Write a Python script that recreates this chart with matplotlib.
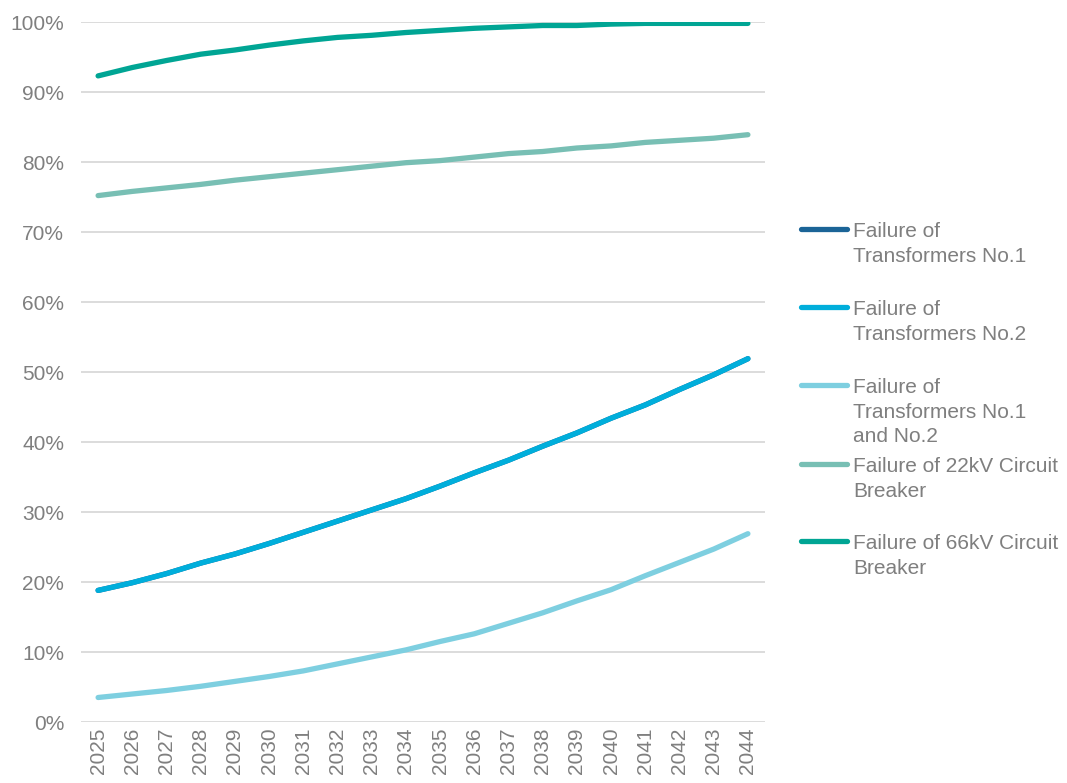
import matplotlib
matplotlib.use("Agg")
import matplotlib.pyplot as plt
from matplotlib.lines import Line2D
from matplotlib.ticker import PercentFormatter

years = [str(y) for y in range(2025, 2045)]

tr1 = [18.8, 19.9, 21.2, 22.7, 24.0, 25.5, 27.1, 28.7, 30.3, 31.9,
       33.7, 35.6, 37.4, 39.4, 41.3, 43.4, 45.3, 47.5, 49.6, 51.9]
tr2 = [18.8, 19.9, 21.2, 22.7, 24.0, 25.5, 27.1, 28.7, 30.3, 31.9,
       33.7, 35.6, 37.4, 39.4, 41.3, 43.4, 45.3, 47.5, 49.6, 51.9]
tr12 = [3.5, 4.0, 4.5, 5.1, 5.8, 6.5, 7.3, 8.3, 9.3, 10.3,
        11.5, 12.6, 14.1, 15.6, 17.3, 18.9, 20.9, 22.8, 24.7, 26.9]
cb22 = [75.2, 75.8, 76.3, 76.8, 77.4, 77.9, 78.4, 78.9, 79.4, 79.9,
        80.2, 80.7, 81.2, 81.5, 82.0, 82.3, 82.8, 83.1, 83.4, 83.9]
cb66 = [92.3, 93.5, 94.5, 95.4, 96.0, 96.7, 97.3, 97.8, 98.1, 98.5,
        98.8, 99.1, 99.3, 99.5, 99.5, 99.7, 99.8, 99.8, 99.8, 99.8]

labels = ["Failure of\nTransformers No.1",
          "Failure of\nTransformers No.2",
          "Failure of\nTransformers No.1\nand No.2",
          "Failure of 22kV Circuit\nBreaker",
          "Failure of 66kV Circuit\nBreaker"]
series = [tr1, tr2, tr12, cb22, cb66]
colors = ["#1B6497", "#00AEDB", "#7ECFE0", "#78BFB4", "#00A594"]

plt.rcParams["font.family"] = ["Liberation Sans", "DejaVu Sans"]
TXT = "#7F7F7F"
FS = 15

W, H = 1067, 783
fig = plt.figure(figsize=(W / 100, H / 100), dpi=100)
ax = fig.add_axes([81 / W, 1 - 722 / H, (765 - 81) / W, (722 - 22) / H])

x = list(range(len(years)))
for s, c in zip(series, colors):
    ax.plot(x, s, color=c, lw=3.8, solid_capstyle="round", solid_joinstyle="round", zorder=3)

ax.set_xlim(-0.5, len(years) - 0.5)
ax.set_ylim(0, 100)
ax.set_yticks(range(0, 101, 10))
ax.yaxis.set_major_formatter(PercentFormatter(decimals=0))
ax.set_xticks(x)
ax.set_xticklabels(years, rotation=90)
ax.grid(axis="y", color="#D9D9D9", lw=1.3, zorder=0)
ax.set_axisbelow(True)
for sp in ax.spines.values():
    sp.set_visible(False)
ax.tick_params(axis="both", length=0, labelsize=FS, labelcolor=TXT)
ax.tick_params(axis="y", pad=12)
ax.tick_params(axis="x", pad=4)

# legend (handle aligned with first line of each label)
ys = [229, 307, 385, 464, 541]
for yy, lab, c in zip(ys, labels, colors):
    fig.add_artist(Line2D([801 / W, 847 / W], [1 - yy / H, 1 - yy / H], color=c, lw=3.8,
                          solid_capstyle="round", transform=fig.transFigure))
    fig.text(853 / W, 1 - (yy - 7) / H, lab, ha="left", va="top", fontsize=FS,
             color=TXT, linespacing=1.37)

fig.savefig("out.png", dpi=100)
